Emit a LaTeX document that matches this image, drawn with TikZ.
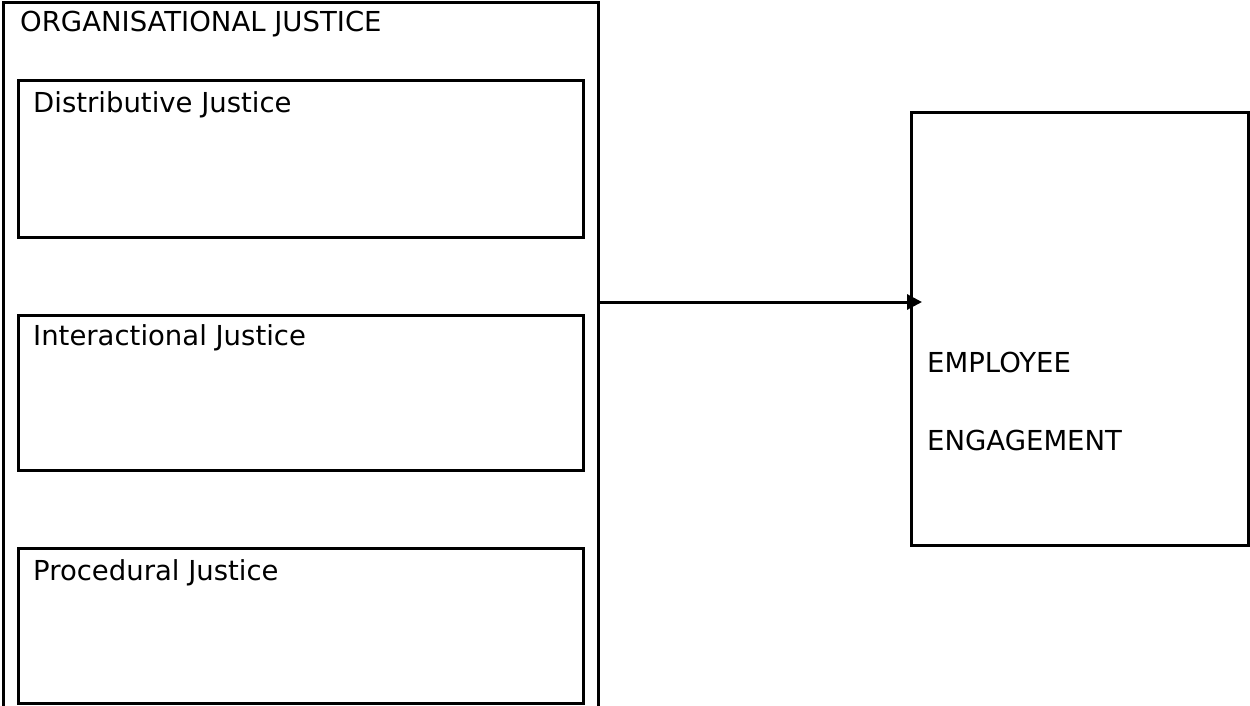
\documentclass[tikz,border=0pt]{standalone}
\usepackage{fontspec}
\setmainfont{DejaVu Sans}
\usetikzlibrary{arrows.meta}
\begin{document}
\begin{tikzpicture}[x=1pt,y=-1pt,
  box/.style={draw,line width=3pt,rectangle,anchor=north west,inner sep=0pt,outer sep=0pt},
  lbl/.style={anchor=base west,inner sep=0pt,font=\fontsize{27.5}{32}\selectfont},
  arr/.style={line width=3pt,-{Triangle[length=15pt,width=15pt]}}]
\useasboundingbox (0,0) rectangle (1250,706);
\node[box,minimum width=595pt,minimum height=730pt] (outer) at (3,3) {};
\node[box,minimum width=565pt,minimum height=156pt] (dist) at (18,81) {};
\node[box,minimum width=565pt,minimum height=155pt] (inter) at (18,315) {};
\node[box,minimum width=565pt,minimum height=155pt] (proc) at (18,548) {};
\node[box,minimum width=337pt,minimum height=432pt] (emp) at (911,113) {};
\node[lbl] (t0) at (20,32) {ORGANISATIONAL JUSTICE};
\node[lbl] (t1) at (33,113) {Distributive Justice};
\node[lbl] (t2) at (33,345) {Interactional Justice};
\node[lbl] (t3) at (33,580) {Procedural Justice};
\node[lbl] (t4) at (927,372) {EMPLOYEE};
\node[lbl] (t5) at (927,450) {ENGAGEMENT};
\coordinate (ay) at (0,302);
\draw[arr] (outer.east |- ay) -- ([xshift=11pt]emp.west |- ay);
\end{tikzpicture}
\end{document}
